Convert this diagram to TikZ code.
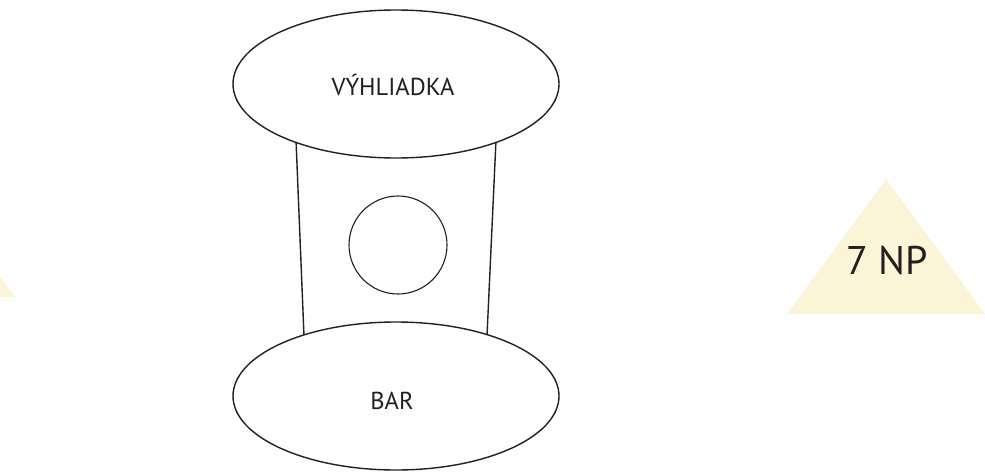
\documentclass[tikz,border=0pt]{standalone}
\usepackage{fontspec}
\setmainfont{PT Sans}
\usetikzlibrary{shapes.geometric}
\definecolor{txt}{HTML}{231F20}
\definecolor{cream}{HTML}{FCF4D6}
\tikzset{
  oval/.style={ellipse, draw=txt, line width=1.4pt, fill=white, inner sep=0pt,
    minimum width=326pt, minimum height=148pt},
  label/.style={text=txt, font=\fontsize{24.5}{26}\selectfont, inner sep=0pt},
  ring/.style={circle, draw=txt, line width=1.1pt, inner sep=0pt, minimum size=98pt},
  side/.style={draw=txt, line width=1.4pt},
  lvl/.style={fill=cream, draw=none},
  lvltext/.style={text=txt, font=\fontsize{40}{44}\selectfont, inner sep=0pt}
}
\begin{document}
\begin{tikzpicture}[x=1pt,y=-1pt]
\useasboundingbox (0,0) rectangle (985,472);
% level triangles
\fill[lvl] (-84,162) -- (15,297) -- (-183,297) -- cycle;
\fill[lvl] (886,179) -- (985,314) -- (787,314) -- cycle;
\node[lvltext] (np) at (887,260) {7 NP};
% frame sides
\coordinate (tl) at (296,140);
\coordinate (bl) at (304,336);
\coordinate (tr) at (496,140);
\coordinate (br) at (487,336);
\draw[side] (tl) -- (bl);
\draw[side] (tr) -- (br);
% ellipses
\node[oval] (top) at (396,84) {};
\node[label] (toplabel) at (393,85) {VÝHLIADKA};
\node[oval] (bar) at (396,396) {};
\node[label] (barlabel) at (392,401) {BAR};
\node[ring] (core) at (398,245) {};
\end{tikzpicture}
\end{document}
